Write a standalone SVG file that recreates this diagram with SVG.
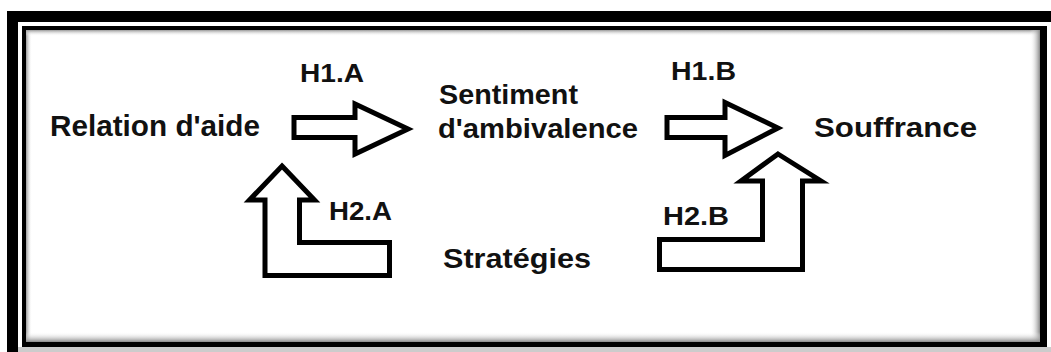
<svg xmlns="http://www.w3.org/2000/svg" width="1051" height="352" viewBox="0 0 1051 352">
<style>
.lbl{font-family:"Liberation Sans",Arial,sans-serif;font-weight:bold;fill:#111;}
.arrow{fill:#fff;stroke:#000;stroke-width:5;stroke-linejoin:miter;}
</style>
<defs>
<linearGradient id="shL" x1="0" y1="0" x2="1" y2="0"><stop offset="0" stop-color="#999"/><stop offset="1" stop-color="#fff" stop-opacity="0"/></linearGradient>
<linearGradient id="shT" x1="0" y1="0" x2="0" y2="1"><stop offset="0" stop-color="#999"/><stop offset="1" stop-color="#fff" stop-opacity="0"/></linearGradient>
<linearGradient id="shR" x1="1" y1="0" x2="0" y2="0"><stop offset="0" stop-color="#888"/><stop offset="1" stop-color="#fff" stop-opacity="0"/></linearGradient>
<linearGradient id="shB" x1="0" y1="1" x2="0" y2="0"><stop offset="0" stop-color="#888"/><stop offset="1" stop-color="#fff" stop-opacity="0"/></linearGradient>
</defs>
<g id="frame">
<rect x="0" y="0" width="1051" height="352" fill="#fff"/>
<rect x="7" y="11" width="1044" height="341" fill="#000"/>
<rect x="18" y="22" width="1033" height="330" fill="#fff"/>
<rect x="18" y="347" width="1033" height="5" fill="#ccc"/>
<rect x="22" y="26" width="1025" height="321" fill="#000"/>
<rect x="26" y="30" width="1014" height="312" fill="#fff"/>
<rect x="26" y="30" width="6" height="312" fill="url(#shL)"/>
<rect x="26" y="30" width="1014" height="6" fill="url(#shT)"/>
<rect x="1030" y="30" width="10" height="312" fill="url(#shR)"/>
<rect x="26" y="332" width="1014" height="10" fill="url(#shB)"/>
</g>
<g id="connectors">
<path id="H1A-arrow" class="arrow" d="M294,117.5 H355 V104 L408,129 L355,154 V137.5 H294 Z"/>
<path id="H1B-arrow" class="arrow" d="M667,117.5 H725 V102.5 L778,128 L725,155.5 V137.5 H667 Z"/>
<path id="H2A-arrow" class="arrow" d="M282,166 L314.5,200 H299.5 V242.5 H389.5 V275.5 H265 V200 H249.5 Z"/>
<path id="H2B-arrow" class="arrow" d="M778,154 L821,181 H802.5 V269.5 H659.5 V239.5 H762.5 V181 H741 Z"/>
<text class="lbl" x="300" y="82" font-size="26" textLength="64" lengthAdjust="spacingAndGlyphs">H1.A</text>
<text class="lbl" x="671" y="80" font-size="26" textLength="65" lengthAdjust="spacingAndGlyphs">H1.B</text>
<text class="lbl" x="329" y="220" font-size="26" textLength="63" lengthAdjust="spacingAndGlyphs">H2.A</text>
<text class="lbl" x="663" y="225" font-size="26" textLength="66" lengthAdjust="spacingAndGlyphs">H2.B</text>
</g>
<g id="node-relation">
<text class="lbl" x="50" y="136" font-size="29" textLength="210" lengthAdjust="spacingAndGlyphs">Relation d'aide</text>
</g>
<g id="node-sentiment">
<text class="lbl" x="439" y="104" font-size="28" textLength="139" lengthAdjust="spacingAndGlyphs">Sentiment</text>
<text class="lbl" x="438" y="138" font-size="28" textLength="200" lengthAdjust="spacingAndGlyphs">d'ambivalence</text>
</g>
<g id="node-souffrance">
<text class="lbl" x="814" y="137" font-size="28" textLength="163" lengthAdjust="spacingAndGlyphs">Souffrance</text>
</g>
<g id="node-strategies">
<text class="lbl" x="443" y="268" font-size="27" textLength="148" lengthAdjust="spacingAndGlyphs">Stratégies</text>
</g>
</svg>
